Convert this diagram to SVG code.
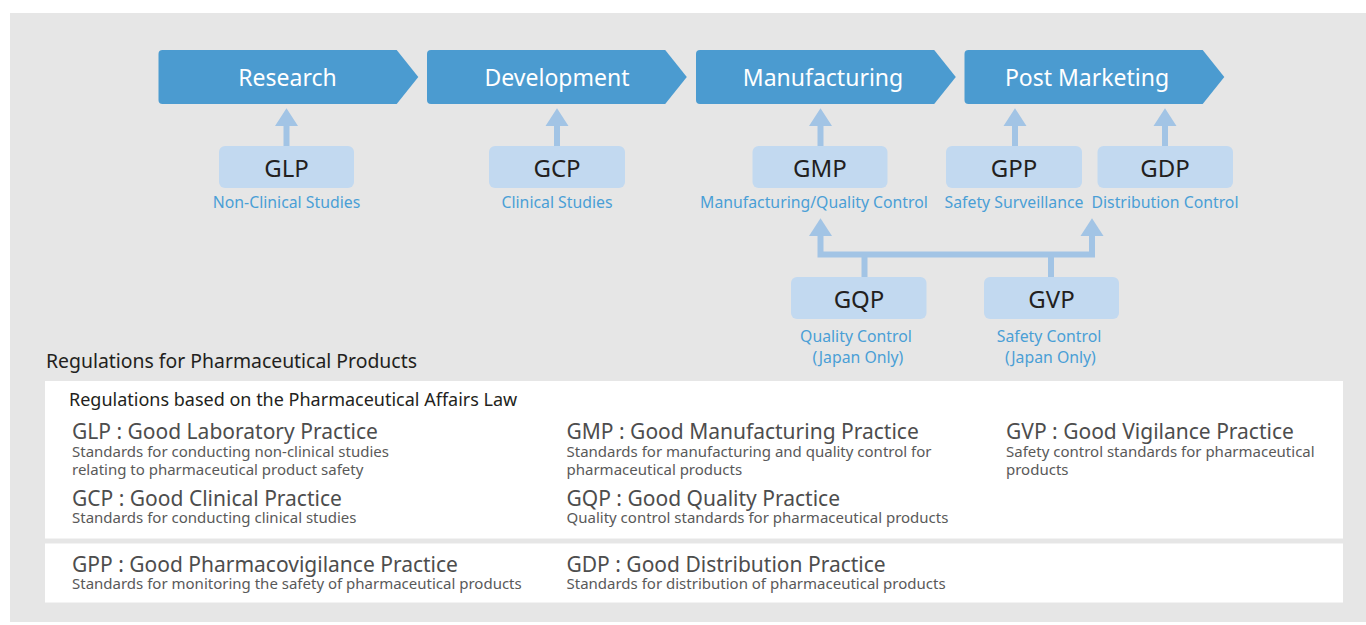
<svg xmlns="http://www.w3.org/2000/svg" width="1366" height="625" viewBox="0 0 1366 625">
<style>
  text { font-family: "Noto Sans", "Open Sans", sans-serif; }
  .chev { fill: #4b9bd0; }
  .chevt { fill: #ffffff; font-size: 23px; text-anchor: middle; }
  .box { fill: #c2d9f0; }
  .boxt { fill: #231f20; font-size: 24px; text-anchor: middle; }
  .lab { fill: #4a9fd6; font-size: 15.8px; text-anchor: middle; }
  .arr { fill: #a2c4e5; }
  .conn { fill: none; stroke: #a2c4e5; stroke-width: 6; stroke-linejoin: miter; }
  .h1 { fill: #231f20; font-size: 19.4px; }
  .h2 { fill: #231f20; font-size: 18px; }
  .term { fill: #4d4d4d; font-size: 21px; }
  .desc { fill: #595959; font-size: 15px; }
</style>
<defs>
  <path id="chevron" d="M4,50 H238.2 L259.8,77 L238.2,104 H4 Q0,104 0,100 V54 Q0,50 4,50 Z"/>
</defs>
<rect x="10" y="13" width="1356" height="609" fill="#e6e6e6"/>

<g id="stage-research">
  <use href="#chevron" class="chev" x="158.5"/>
  <text class="chevt" x="287.5" y="85.5">Research</text>
</g>
<g id="stage-development">
  <use href="#chevron" class="chev" x="427"/>
  <text class="chevt" x="557" y="85.5">Development</text>
</g>
<g id="stage-manufacturing">
  <use href="#chevron" class="chev" x="696"/>
  <text class="chevt" x="823" y="85.5">Manufacturing</text>
</g>
<g id="stage-postmarketing">
  <use href="#chevron" class="chev" x="964.5"/>
  <text class="chevt" x="1087" y="85.5">Post Marketing</text>
</g>

<g id="connectors">
  <path class="arr" d="M286.5,108.3 L298,126 H289.5 V146 H283.5 V126 H275 Z"/>
  <path class="arr" d="M557,108.3 L568.5,126 H560 V146 H554 V126 H545.5 Z"/>
  <path class="arr" d="M820.5,108.3 L832,126 H823.5 V146 H817.5 V126 H809 Z"/>
  <path class="arr" d="M1015,108.3 L1026.5,126 H1018 V146 H1012 V126 H1003.5 Z"/>
  <path class="arr" d="M1165,108.3 L1176.5,126 H1168 V146 H1162 V126 H1153.5 Z"/>
  <path class="conn" d="M820.5,235 V254.5 H1092 V235"/>
  <path class="conn" d="M864.5,254.5 V277"/>
  <path class="conn" d="M1051,254.5 V277"/>
  <path class="arr" d="M820.5,218.3 L832,236 H809 Z"/>
  <path class="arr" d="M1092,218.3 L1103.5,236 H1080.5 Z"/>
</g>

<g id="node-glp">
  <rect class="box" x="219" y="146" width="135" height="42" rx="6"/>
  <text class="boxt" x="286.5" y="177">GLP</text>
  <text class="lab" x="286.5" y="208.3">Non-Clinical Studies</text>
</g>
<g id="node-gcp">
  <rect class="box" x="489" y="146" width="136" height="42" rx="6"/>
  <text class="boxt" x="557" y="177">GCP</text>
  <text class="lab" x="557" y="208.3">Clinical Studies</text>
</g>
<g id="node-gmp">
  <rect class="box" x="752.5" y="146" width="135" height="42" rx="6"/>
  <text class="boxt" x="820" y="177">GMP</text>
  <text class="lab" x="814" y="208.3">Manufacturing/Quality Control</text>
</g>
<g id="node-gpp">
  <rect class="box" x="946" y="146" width="136" height="42" rx="6"/>
  <text class="boxt" x="1014" y="177">GPP</text>
  <text class="lab" x="1014" y="208.3">Safety Surveillance</text>
</g>
<g id="node-gdp">
  <rect class="box" x="1097.5" y="146" width="135.5" height="42" rx="6"/>
  <text class="boxt" x="1165" y="177">GDP</text>
  <text class="lab" x="1165" y="208.3">Distribution Control</text>
</g>
<g id="node-gqp">
  <rect class="box" x="791" y="277" width="135.5" height="42" rx="6"/>
  <text class="boxt" x="859" y="308">GQP</text>
  <text class="lab" x="856" y="341.5">Quality Control</text>
  <text class="lab" x="858" y="363">(Japan Only)</text>
</g>
<g id="node-gvp">
  <rect class="box" x="984" y="277" width="135" height="42" rx="6"/>
  <text class="boxt" x="1051.5" y="308">GVP</text>
  <text class="lab" x="1049" y="341.5">Safety Control</text>
  <text class="lab" x="1050.5" y="363">(Japan Only)</text>
</g>

<g id="legend">
  <text class="h1" x="46" y="368">Regulations for Pharmaceutical Products</text>
  <rect x="45" y="381" width="1298" height="157.5" fill="#ffffff"/>
  <rect x="45" y="543.5" width="1298" height="59" fill="#ffffff"/>
  <text class="h2" x="69" y="405.5">Regulations based on the Pharmaceutical Affairs Law</text>

  <text class="term" x="72" y="439">GLP : Good Laboratory Practice</text>
  <text class="desc" x="72" y="457.3">Standards for conducting non-clinical studies</text>
  <text class="desc" x="72" y="475">relating to pharmaceutical product safety</text>
  <text class="term" x="72" y="505.7">GCP : Good Clinical Practice</text>
  <text class="desc" x="72" y="523.3">Standards for conducting clinical studies</text>

  <text class="term" x="566.5" y="439">GMP : Good Manufacturing Practice</text>
  <text class="desc" x="566.5" y="457.3">Standards for manufacturing and quality control for</text>
  <text class="desc" x="566.5" y="475">pharmaceutical products</text>
  <text class="term" x="566.5" y="505.7">GQP : Good Quality Practice</text>
  <text class="desc" x="566.5" y="523.3">Quality control standards for pharmaceutical products</text>

  <text class="term" x="1006" y="439">GVP : Good Vigilance Practice</text>
  <text class="desc" x="1006" y="457.3">Safety control standards for pharmaceutical</text>
  <text class="desc" x="1006" y="475">products</text>

  <text class="term" x="72" y="571.7">GPP : Good Pharmacovigilance Practice</text>
  <text class="desc" x="72" y="589">Standards for monitoring the safety of pharmaceutical products</text>
  <text class="term" x="566.5" y="571.7">GDP : Good Distribution Practice</text>
  <text class="desc" x="566.5" y="589">Standards for distribution of pharmaceutical products</text>
</g>
</svg>
